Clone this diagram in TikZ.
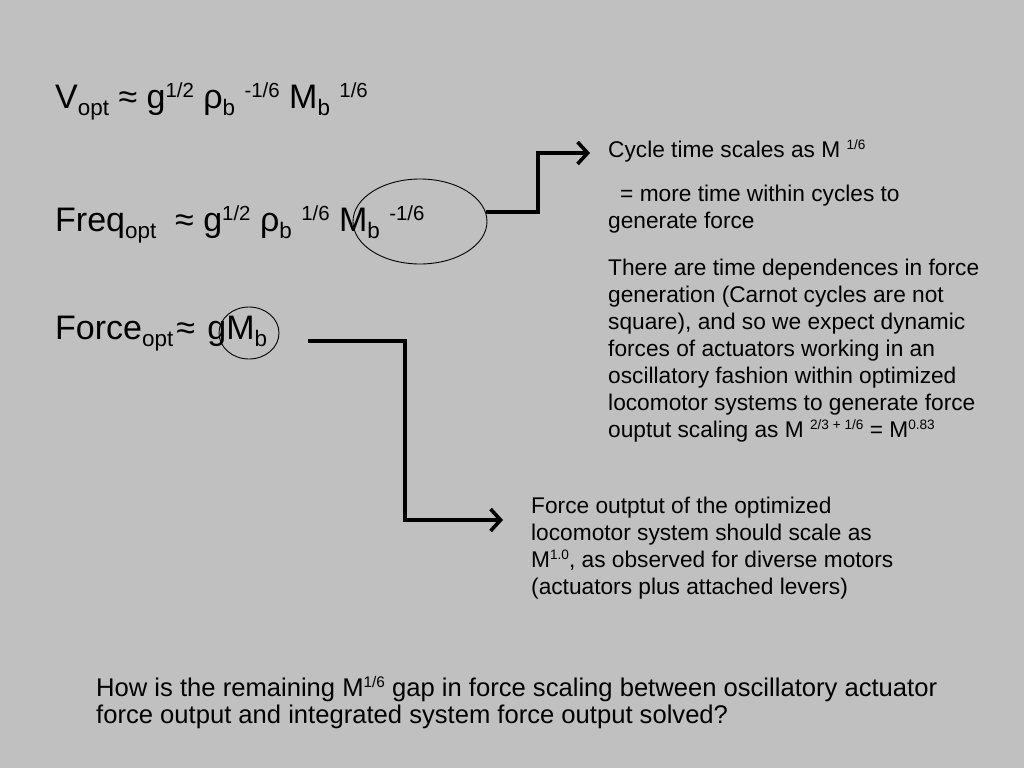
\documentclass[tikz,border=0pt]{standalone}
\usepackage{fontspec}
\setmainfont{Liberation Sans}
\usetikzlibrary{arrows.meta,shapes.geometric}
\definecolor{bg}{HTML}{C0C0C0}
\newcommand\up[1]{\raisebox{0.32em}{\scalebox{0.6}{#1}}}
\newcommand\dn[1]{\raisebox{-0.22em}{\scalebox{0.66}{#1}}}
\tikzset{
  formula/.style={anchor=base west,inner sep=0pt,font=\fontsize{34}{40}\selectfont},
  para/.style={anchor=base west,inner sep=0pt,align=left,font=\fontsize{22.7}{27}\selectfont},
  bigpara/.style={anchor=base west,inner sep=0pt,align=left,font=\fontsize{25.6}{27}\selectfont},
  ring/.style={draw,ellipse,line width=0.9pt,inner sep=0pt},
  conn/.style={line width=3.6pt,-{Straight Barb[length=10pt,width=22pt,line width=3.6pt]}},
}
\begin{document}
\begin{tikzpicture}[x=1pt,y=-1pt]
\fill[bg] (0,0) rectangle (1024,768);
\useasboundingbox (0,0) rectangle (1024,768);
% formulas
\node[formula] (f1) at (55,108) {V\dn{opt} ≈ g\up{1/2} ρ\dn{b} \up{-1/6} M\dn{b} \up{1/6}};
\node[formula] (f2) at (55,231) {Freq\dn{opt}\ \ ≈ g\up{1/2} ρ\dn{b} \up{1/6} M\dn{b} \up{-1/6}};
\node[formula] (f3) at (55,339) {Force\dn{opt}\kern3pt≈ \kern3pt gM\dn{b}};
% rings
\node[ring,minimum width=134pt,minimum height=85pt] (e1) at (420,221.5) {};
\node[ring,minimum width=60pt,minimum height=52pt] (e2) at (249,333) {};
% right texts (base = last line)
\node[para] (t1) at (608,157) {Cycle time scales as M \up{1/6}};
\node[para] (t2) at (608,228) {\hspace*{12pt}= more time within cycles to\\generate force};
\node[para] (t3) at (608,437) {There are time dependences in force\\generation (Carnot cycles are not\\square), and so we expect dynamic\\forces of actuators working in an\\oscillatory fashion within optimized\\locomotor systems to generate force\\ouptut scaling as M \up{2/3 + 1/6} = M\up{0.83}};
\node[para] (t4) at (531,594) {Force outptut of the optimized\\locomotor system should scale as\\M\up{1.0}, as observed for diverse motors\\(actuators plus attached levers)};
\node[bigpara] (t5) at (96,723) {How is the remaining M\up{1/6} gap in force scaling between oscillatory actuator\\force output and integrated system force output solved?};
% connectors
\coordinate (k1) at (538,153);
\coordinate (tip1) at (590,153);
\draw[conn] (e1.8) -| (k1) -- (tip1);
\coordinate (s2) at (308,341);
\coordinate (k2) at (405,520);
\coordinate (tip2) at (503,520);
\draw[conn] (s2) -| (k2) -- (tip2);
\end{tikzpicture}
\end{document}
